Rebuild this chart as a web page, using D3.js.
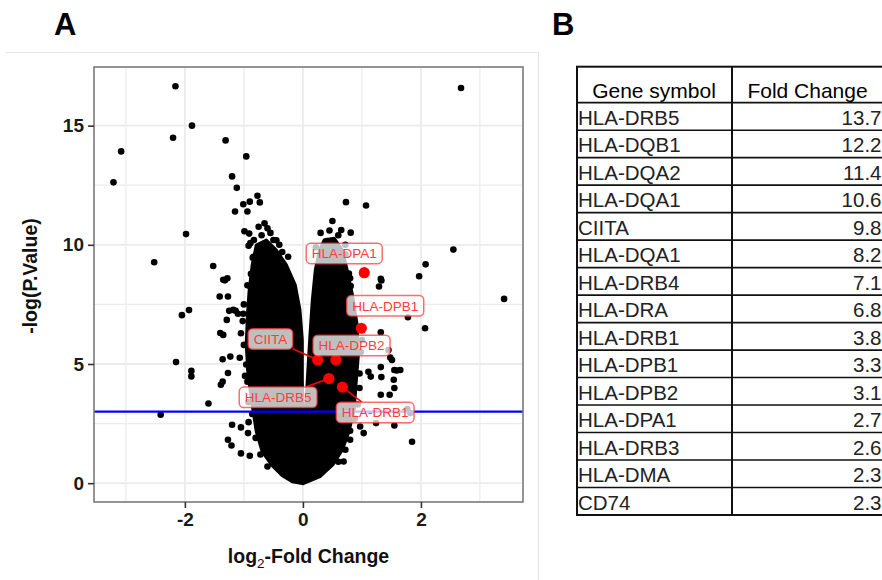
<!DOCTYPE html>
<html>
<head>
<meta charset="utf-8">
<script src="https://cdn.jsdelivr.net/npm/d3@7"></script>
<style>
    body { margin: 0; background: #fff; }
    svg { display: block; font-family: "Liberation Sans", Arial, sans-serif; }
</style>
</head>
<body>
<svg id="fig" width="882" height="580"></svg>
<script>
'use strict';

// background genes, [log2 fold change, -log(p)]
var otherGenes = [
    [-2.16, 16.65], [-1.88, 15.0], [-2.20, 14.49], [-3.08, 13.92], [-3.21, 12.62], [-1.31, 14.38],
    [-0.96, 13.71], [-1.20, 12.87], [-1.12, 12.39], [-0.77, 12.06], [-0.90, 11.81], [-1.01, 11.70],
    [-0.73, 11.78], [-1.15, 11.40], [-0.94, 11.40], [-0.75, 10.76], [-0.60, 10.69], [-0.99, 10.57],
    [-0.91, 10.47], [-0.45, 10.19], [-0.92, 9.96], [-1.98, 10.45], [-0.63, 9.59], [-0.85, 9.46],
    [-0.77, 9.31], [-0.71, 9.18], [-2.52, 9.27], [-1.52, 9.11], [-0.88, 8.78], [-0.42, 8.93],
    [-0.57, 8.78], [-1.28, 8.60], [-1.32, 8.51], [-0.94, 8.30], [-1.41, 7.83], [-1.27, 7.83],
    [-0.84, 7.69], [-0.83, 7.41], [-2.05, 7.05], [-1.93, 7.26], [-1.25, 7.23], [-1.14, 7.23],
    [-1.01, 7.11], [-1.10, 7.11], [-1.29, 6.85], [-1.35, 6.22], [-1.05, 6.29], [-0.32, 7.86],
    [-1.36, 5.20], [-1.07, 5.26], [-0.96, 4.98], [-0.91, 4.81], [-2.15, 5.08], [-1.89, 4.71],
    [-1.89, 4.48], [-1.27, 4.62], [-1.36, 4.26], [-1.39, 4.13], [-0.94, 4.26], [-1.60, 3.34],
    [-2.41, 2.87], [-1.20, 2.45], [-1.05, 2.34], [-0.92, 2.56], [-0.93, 2.10], [-1.27, 1.82],
    [-1.21, 1.58], [-1.05, 1.25], [-0.90, 1.15], [-1.35, 8.53], [-1.40, 6.30], [-1.23, 5.31],
    [-0.89, 10.07], [-0.84, 9.50], [-1.18, 7.27], [-1.00, 7.50], [-1.02, 6.80], [-1.00, 5.80],
    [-0.98, 4.50], [-0.92, 3.40], [-0.86, 2.90], [-0.80, 1.90], [-0.72, 1.20], [-0.60, 0.70],
    [-0.70, 10.40], [-0.55, 10.50], [-0.83, 10.20], [-0.40, 10.00], [-0.25, 9.50], [-0.65, 10.90],
    [-0.50, 10.20], [-0.35, 9.70], [-0.75, 9.90],
    [2.68, 16.58], [0.73, 11.79], [1.07, 11.65], [0.65, 10.62], [0.81, 10.51], [0.41, 10.16],
    [2.55, 9.80], [2.08, 9.18], [1.97, 8.68], [1.32, 8.57], [0.78, 8.79], [3.41, 7.73],
    [2.07, 6.50], [1.78, 6.96], [1.32, 6.33], [1.48, 5.27], [1.55, 4.75], [1.32, 4.87],
    [1.59, 4.73], [1.11, 4.67], [1.15, 4.47], [1.54, 4.34], [1.55, 3.99], [1.32, 3.71],
    [1.47, 3.71], [0.96, 3.99], [0.97, 2.38], [1.03, 2.10], [1.55, 2.42], [1.24, 2.52],
    [1.85, 1.74], [0.80, 1.82], [0.69, 0.91], [1.82, 2.94], [1.29, 8.25], [0.81, 8.27],
    [1.33, 8.50], [1.77, 3.11], [1.33, 4.45], [1.45, 5.59], [1.51, 5.17], [1.65, 4.75],
    [1.00, 6.00], [0.98, 5.50], [0.96, 4.60], [0.93, 3.30], [0.88, 2.70], [0.80, 2.20],
    [0.72, 1.40], [0.60, 0.90], [0.85, 7.30], [0.80, 8.60], [0.72, 9.60],
    [0.30, 10.50], [0.45, 10.60], [0.60, 10.40], [0.72, 10.00], [0.22, 9.90], [0.50, 11.00]
];

// outline of the two dense clouds where points overlap into solid black
var coreDown = [
    [-0.79, 9.99], [-0.62, 10.20], [-0.45, 9.78], [-0.28, 9.16], [-0.13, 8.32], [-0.05, 7.27],
    [-0.01, 6.01], [-0.01, 4.34], [0.005, 2.66], [0.005, 0.98], [-0.01, -0.02], [-0.18, 0.06],
    [-0.35, 0.31], [-0.52, 0.73], [-0.69, 1.32], [-0.79, 2.16], [-0.86, 3.29], [-0.93, 4.55],
    [-0.96, 5.80], [-0.94, 7.06], [-0.91, 8.11], [-0.86, 9.15]
];
var coreUp = [
    [0.36, 10.20], [0.53, 10.28], [0.67, 9.78], [0.75, 8.94], [0.84, 7.90], [0.92, 6.64],
    [0.94, 5.38], [0.90, 4.13], [0.87, 3.08], [0.78, 2.16], [0.67, 1.40], [0.51, 0.78],
    [0.29, 0.27], [0.005, -0.02], [0.005, 1.19], [0.02, 2.45], [0.06, 3.71], [0.09, 4.96],
    [0.12, 6.22], [0.16, 7.69], [0.21, 8.94], [0.28, 9.78]
];

// MHC class II genes highlighted in red
var hitGenes = ['HLA-DPA1', 'HLA-DPB1', 'CIITA', 'HLA-DPB2', 'HLA-DRB5', 'HLA-DRB1'];
var hitLogFC = [1.04, 0.99, 0.25, 0.56, 0.44, 0.67];
var hitLogP = [8.83, 6.50, 5.17, 5.17, 4.39, 4.03];
var pThreshold = 3;

var xTicks = [-2, 0, 2];
var yTicks = [0, 5, 10, 15];

// table B
var tableGenes = ['HLA-DRB5', 'HLA-DQB1', 'HLA-DQA2', 'HLA-DQA1', 'CIITA', 'HLA-DQA1', 'HLA-DRB4',
    'HLA-DRA', 'HLA-DRB1', 'HLA-DPB1', 'HLA-DPB2', 'HLA-DPA1', 'HLA-DRB3', 'HLA-DMA', 'CD74'];
var tableFold = ['13.7', '12.2', '11.4', '10.6', '9.8', '8.2', '7.1', '6.8', '3.8', '3.3', '3.1',
    '2.7', '2.6', '2.3', '2.3'];

// where the repelled labels ended up (data units), and whether a segment is drawn
var labelAt = [[0.70, 9.64], [1.395, 7.44], [-0.55, 6.05], [0.825, 5.78], [-0.42, 3.60], [1.225, 2.97]];
var labelSegment = [false, false, true, false, true, true];

var svg = d3.select('#fig');

var panel = { left: 94, right: 523, top: 67, bottom: 502 };
var x = d3.scaleLinear().domain([-3.54, 3.73]).range([panel.left, panel.right]);
var y = d3.scaleLinear().domain([-0.79, 17.46]).range([panel.bottom, panel.top]);

// faint frame around panel A
svg.append('path')
    .attr('d', 'M6,52.5H538.5V580')
    .attr('fill', 'none')
    .attr('stroke', '#e6e6e6')
    .attr('stroke-width', 1.2);

svg.append('text').attr('x', 54).attr('y', 35).text('A')
    .style('font-size', '31px').style('font-weight', 'bold').attr('fill', '#000');
svg.append('text').attr('x', 552).attr('y', 35).text('B')
    .style('font-size', '31px').style('font-weight', 'bold').attr('fill', '#000');

var plot = svg.append('g');

// grid
var gridColor = '#ebebeb';
plot.selectAll('line.xminor').data([-3, -1, 1, 3]).enter().append('line')
    .attr('x1', x).attr('x2', x).attr('y1', panel.top).attr('y2', panel.bottom)
    .attr('stroke', gridColor).attr('stroke-width', 1.2);
plot.selectAll('line.yminor').data([2.5, 7.5, 12.5]).enter().append('line')
    .attr('y1', y).attr('y2', y).attr('x1', panel.left).attr('x2', panel.right)
    .attr('stroke', gridColor).attr('stroke-width', 1.2);
plot.selectAll('line.xmajor').data(xTicks).enter().append('line')
    .attr('x1', x).attr('x2', x).attr('y1', panel.top).attr('y2', panel.bottom)
    .attr('stroke', gridColor).attr('stroke-width', 1.8);
plot.selectAll('line.ymajor').data(yTicks).enter().append('line')
    .attr('y1', y).attr('y2', y).attr('x1', panel.left).attr('x2', panel.right)
    .attr('stroke', gridColor).attr('stroke-width', 1.8);

// dense clouds
var cloud = d3.line()
    .x(function(d) { return x(d[0]); })
    .y(function(d) { return y(d[1]); })
    .curve(d3.curveLinearClosed);

plot.selectAll('path.core').data([coreDown, coreUp]).enter().append('path')
    .attr('d', cloud)
    .attr('fill', '#000')
    .attr('stroke', '#000')
    .attr('stroke-width', 3)
    .attr('stroke-linejoin', 'round');

plot.selectAll('circle.gene').data(otherGenes).enter().append('circle')
    .attr('cx', function(d) { return x(d[0]); })
    .attr('cy', function(d) { return y(d[1]); })
    .attr('r', 3.3)
    .attr('fill', '#000');

// significance threshold
plot.append('line')
    .attr('x1', panel.left).attr('x2', panel.right)
    .attr('y1', y(pThreshold)).attr('y2', y(pThreshold))
    .attr('stroke', '#0000ff')
    .attr('stroke-width', 2.4);

// highlighted genes
var hits = hitGenes.map(function(g, i) {
    return { gene: g, fc: hitLogFC[i], p: hitLogP[i], lx: labelAt[i][0], ly: labelAt[i][1], seg: labelSegment[i] };
});

plot.selectAll('circle.hit').data(hits).enter().append('circle')
    .attr('cx', function(d) { return x(d.fc); })
    .attr('cy', function(d) { return y(d.p); })
    .attr('r', 5.6)
    .attr('fill', '#ff0000');

var labelFont = 13.5;
var labels = plot.selectAll('g.label').data(hits).enter().append('g')
    .attr('transform', function(d) { return 'translate(' + x(d.lx) + ',' + y(d.ly) + ')'; });

var labelText = labels.append('text')
    .attr('text-anchor', 'middle')
    .attr('dy', '0.35em')
    .style('font-size', labelFont + 'px')
    .attr('fill', '#ff3b3b')
    .text(function(d) { return d.gene; });

labelText.each(function(d) {
    d.w = this.getComputedTextLength() + 11;
    d.h = 20.5;
});

// segments from box edge to point
hits.forEach(function(d) {
    if (!d.seg) {
        return;
    }
    var cx = x(d.lx), cy = y(d.ly);
    var px = x(d.fc), py = y(d.p);
    var dx = px - cx, dy = py - cy;
    var t = Math.min(Math.abs((d.w / 2) / (dx || 1e-6)), Math.abs((d.h / 2) / (dy || 1e-6)));
    plot.insert('line', 'g')
        .attr('x1', cx + dx * t).attr('y1', cy + dy * t)
        .attr('x2', px).attr('y2', py)
        .attr('stroke', '#ff0000')
        .attr('stroke-width', 1.6);
});

labels.insert('rect', 'text')
    .attr('x', function(d) { return -d.w / 2; })
    .attr('y', function(d) { return -d.h / 2; })
    .attr('width', function(d) { return d.w; })
    .attr('height', function(d) { return d.h; })
    .attr('rx', 4.5)
    .attr('fill', 'rgba(255,255,255,0.75)')
    .attr('stroke', 'rgba(255,60,60,0.75)')
    .attr('stroke-width', 1.5);

// panel border
plot.append('rect')
    .attr('x', panel.left).attr('y', panel.top)
    .attr('width', panel.right - panel.left).attr('height', panel.bottom - panel.top)
    .attr('fill', 'none')
    .attr('stroke', '#7a7a7a')
    .attr('stroke-width', 1.6);

// axes
var xAxis = svg.append('g')
    .attr('transform', 'translate(0,' + panel.bottom + ')')
    .call(d3.axisBottom(x).tickValues(xTicks).tickSize(6).tickPadding(5).tickFormat(d3.format('d')));
var yAxis = svg.append('g')
    .attr('transform', 'translate(' + panel.left + ',0)')
    .call(d3.axisLeft(y).tickValues(yTicks).tickSize(6).tickPadding(4));

[xAxis, yAxis].forEach(function(a) {
    a.select('.domain').remove();
    a.selectAll('.tick line').attr('stroke', '#333').attr('stroke-width', 1.6);
    a.selectAll('.tick text')
        .attr('fill', '#1a1a1a')
        .style('font-size', '19px')
        .style('font-weight', 'bold')
        .style('font-family', '"Liberation Sans", Arial, sans-serif');
});
xAxis.selectAll('.tick text').text(function(d) { return d < 0 ? '-' + Math.abs(d) : d; });

var xTitle = svg.append('text')
    .attr('x', (panel.left + panel.right) / 2)
    .attr('y', 563)
    .attr('text-anchor', 'middle')
    .style('font-size', '19.5px')
    .style('font-weight', 'bold')
    .attr('fill', '#111');
xTitle.append('tspan').text('log');
xTitle.append('tspan').attr('dy', 5).style('font-size', '13.5px').style('font-weight', 'normal').text('2');
xTitle.append('tspan').attr('dy', -5).text('-Fold Change');

svg.append('text')
    .attr('transform', 'translate(37,276) rotate(-90)')
    .attr('text-anchor', 'middle')
    .style('font-size', '19.5px')
    .style('font-weight', 'bold')
    .attr('fill', '#111')
    .text('-log(P.Value)');

// ---- table B ----
var table = { left: 577, right: 885, top: 66.7, head: 102.7, bottom: 515, split: 732 };
var rowY = d3.scaleLinear().domain([0, tableGenes.length]).range([table.head, table.bottom]);

var tb = svg.append('g');

tb.selectAll('line.row').data(d3.range(1, tableGenes.length)).enter().append('line')
    .attr('x1', table.left).attr('x2', table.right)
    .attr('y1', rowY).attr('y2', rowY)
    .attr('stroke', '#111').attr('stroke-width', 1.6);

tb.append('line')
    .attr('x1', table.left).attr('x2', table.right)
    .attr('y1', table.head).attr('y2', table.head)
    .attr('stroke', '#111').attr('stroke-width', 1.8);

tb.append('line')
    .attr('x1', table.split).attr('x2', table.split)
    .attr('y1', table.top).attr('y2', table.bottom)
    .attr('stroke', '#111').attr('stroke-width', 2);

tb.append('rect')
    .attr('x', table.left).attr('y', table.top)
    .attr('width', table.right - table.left).attr('height', table.bottom - table.top)
    .attr('fill', 'none').attr('stroke', '#111').attr('stroke-width', 2);

tb.append('text').attr('x', 654).attr('y', 97.5)
    .attr('text-anchor', 'middle').style('font-size', '21px').attr('fill', '#000').text('Gene symbol');
tb.append('text').attr('x', 807.5).attr('y', 97.5)
    .attr('text-anchor', 'middle').style('font-size', '21px').attr('fill', '#000').text('Fold Change');

tb.selectAll('text.gene').data(tableGenes).enter().append('text')
    .attr('x', table.left + 1)
    .attr('y', function(d, i) { return rowY(i) + 22.3; })
    .style('font-size', '20.5px')
    .attr('fill', '#222')
    .text(function(d) { return d; });

tb.selectAll('text.fold').data(tableFold).enter().append('text')
    .attr('x', 881.5)
    .attr('y', function(d, i) { return rowY(i) + 22.3; })
    .attr('text-anchor', 'end')
    .style('font-size', '20.5px')
    .attr('fill', '#222')
    .text(function(d) { return d; });
</script>
</body>
</html>
